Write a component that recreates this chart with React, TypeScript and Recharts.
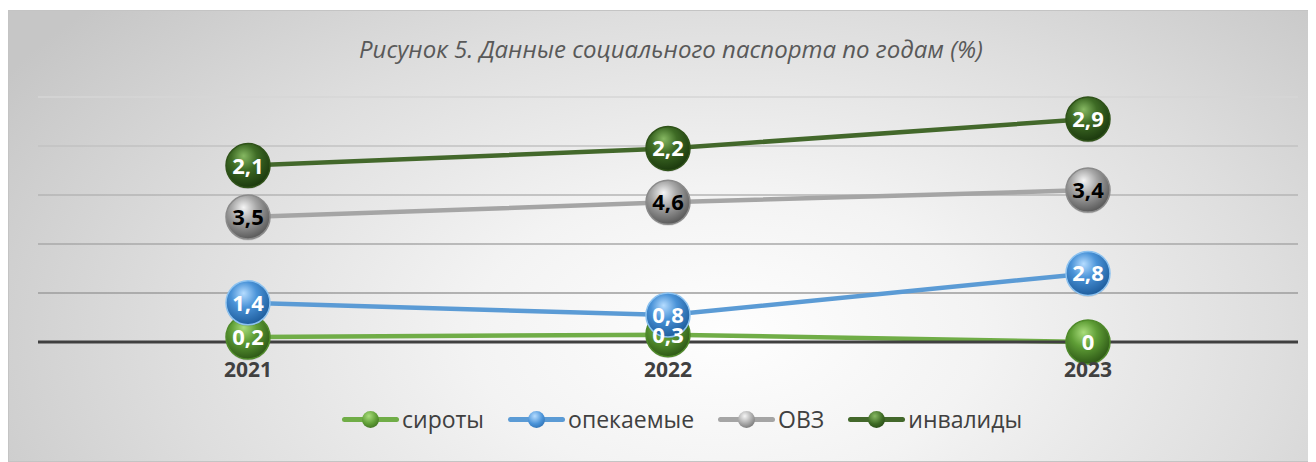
import { AreaChart, Area, XAxis, YAxis, CartesianGrid, ReferenceLine, LabelList } from 'recharts'

const years = ['2021', '2022', '2023']
const siroty = [0.2, 0.3, 0]
const opekaemye = [1.4, 0.8, 2.8]
const ovz = [3.5, 4.6, 3.4]
const invalidy = [2.1, 2.2, 2.9]
const seriesNames = ['сироты', 'опекаемые', 'ОВЗ', 'инвалиды']
const yTicks = [0, 2, 4, 6, 8, 10]

const W = 1308
const H = 452

const series = [
  { key: 's', name: seriesNames[0], values: siroty, line: '#70ad47', light: '#a9dd7c', base: '#5f9e36', dark: '#2f5a17', ring: '#4f8a2a', text: '#ffffff' },
  { key: 'o', name: seriesNames[1], values: opekaemye, line: '#5b9bd5', light: '#b5dcff', base: '#4a93d8', dark: '#1f5e9e', ring: '#8cc2f0', text: '#ffffff' },
  { key: 'v', name: seriesNames[2], values: ovz, line: '#a5a5a5', light: '#f5f5f5', base: '#a6a6a6', dark: '#5a5a5a', ring: '#8a8a8a', text: '#000000' },
  { key: 'i', name: seriesNames[3], values: invalidy, line: '#43682b', light: '#86b862', base: '#3e6b25', dark: '#1c3a0e', ring: '#2f5219', text: '#ffffff' },
]

const data = years.map((y, i) => {
  const row: any = { year: y }
  series.forEach(s => { row[s.key] = s.values[i] })
  return row
})

const gridColor = (y: number) => {
  if (y < 120) return '#d6d6d6'
  if (y < 170) return '#c2c2c2'
  if (y < 220) return '#b5b5b5'
  if (y < 270) return '#a9a9a9'
  return '#9c9c9c'
}

const makeDot = (s: any) => (props: any) => {
  const { cx, cy, index } = props
  return (
    <g key={`${s.key}-dot-${index}`}>
      <circle cx={cx} cy={cy + 1.5} r={22} fill="rgba(0,0,0,0.12)" />
      <circle cx={cx} cy={cy} r={22} fill={`url(#sph-${s.key})`} stroke={s.ring} strokeWidth={1.5} />
    </g>
  )
}

const makeLabel = (s: any) => (props: any) => {
  const { x, y, value, index } = props
  return (
    <text key={`${s.key}-lbl-${index}`} x={x} y={y} dy="0.36em" textAnchor="middle"
      fontFamily="'Open Sans', sans-serif" fontWeight={700} fontSize={22} fill={s.text}>
      {String(value).replace('.', ',')}
    </text>
  )
}

const YearTick = (props: any) => {
  const { x, y, payload } = props
  return (
    <text x={x} y={y + 19} dy="0.36em" textAnchor="middle" fontFamily="'Open Sans', sans-serif"
      fontWeight={700} fontSize={21} fill="#404040">
      {payload.value}
    </text>
  )
}

const GridLine = (props: any) => {
  const { x1, x2, y1, y2, index } = props
  return <line key={`grid-${index}`} x1={x1} x2={x2} y1={y1} y2={y2} stroke={gridColor(y1)} strokeWidth={1.3} />
}

export default function App() {
  return (
    <div style={{
      position: 'relative', width: W, height: H, marginTop: 2,
      border: '1px solid #c4c4c4', boxSizing: 'border-box',
      background: 'radial-gradient(ellipse 65% 110% at 55% 72%, #fefefe 0%, #f3f3f3 30%, #dedede 65%, #c6c6c6 100%)',
    }}>
      <div style={{
        position: 'absolute', left: 8, width: W, top: 21, textAlign: 'center',
        fontFamily: "'Open Sans', sans-serif", fontStyle: 'italic', fontSize: 24, color: '#595959',
      }}>
        Рисунок 5. Данные социального паспорта по годам (%)
      </div>
      <AreaChart width={W} height={H} data={data} margin={{ top: 86, right: 19, left: 29, bottom: 91 }}>
        <defs>
          {series.map(s => (
            <radialGradient key={s.key} id={`sph-${s.key}`} cx="42%" cy="35%" r="65%" fx="40%" fy="28%">
              <stop offset="0%" stopColor={s.light} />
              <stop offset="45%" stopColor={s.base} />
              <stop offset="100%" stopColor={s.dark} />
            </radialGradient>
          ))}
        </defs>
        <CartesianGrid vertical={false} horizontal={GridLine as any} />
        <YAxis hide domain={[0, 10]} ticks={yTicks} />
        <XAxis dataKey="year" height={30} axisLine={false} tickLine={false} padding={{ left: 210, right: 210 }} tick={<YearTick />} />
        <ReferenceLine y={0} stroke="#404040" strokeWidth={3} />
        {series.map(s => (
          <Area key={s.key} type="linear" dataKey={s.key} name={s.name} stackId="a" stroke={s.line} strokeWidth={4.5}
            fill="none" fillOpacity={0} dot={makeDot(s)} activeDot={false} isAnimationActive={false} />
        ))}
        {series.map(s => (
          <Area key={`${s.key}-l`} type="linear" dataKey={s.key} stackId="lbl" stroke="none" fill="none" fillOpacity={0}
            dot={false} activeDot={false} isAnimationActive={false} legendType="none">
            <LabelList dataKey={s.key} content={makeLabel(s)} />
          </Area>
        ))}
      </AreaChart>
      <div style={{
        position: 'absolute', left: 333, top: 393, display: 'flex', alignItems: 'center', gap: 24,
        fontFamily: "'Open Sans', sans-serif", fontSize: 23, color: '#404040', lineHeight: '30px',
      }}>
        {series.map(s => (
          <div key={s.key} style={{ display: 'flex', alignItems: 'center' }}>
            <div style={{ position: 'relative', width: 57, height: 30, marginRight: 3 }}>
              <div style={{ position: 'absolute', left: 0, right: 0, top: 13, height: 5, borderRadius: 3, background: s.line }} />
              <div style={{
                position: 'absolute', left: 20, top: 7, width: 17, height: 17, borderRadius: '50%',
                background: `radial-gradient(circle at 40% 30%, ${s.light} 0%, ${s.base} 50%, ${s.dark} 100%)`,
              }} />
            </div>
            <span>{s.name}</span>
          </div>
        ))}
      </div>
    </div>
  )
}
